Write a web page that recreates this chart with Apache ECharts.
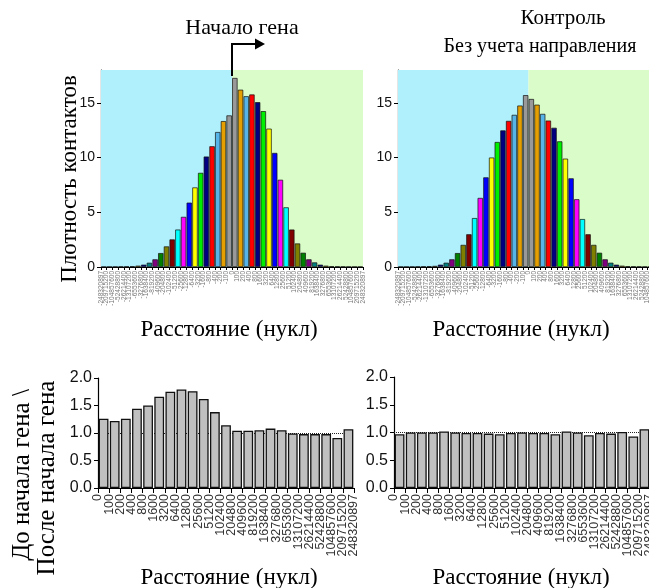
<!DOCTYPE html>
<html><head><meta charset="utf-8">
<script src="https://cdn.jsdelivr.net/npm/echarts@6/dist/echarts.min.js"></script>
<style>html,body{margin:0;padding:0;background:#fff}#c{width:649px;height:588px}</style>
</head><body><div id="c"></div>
<script>
// ---- data ----
const topTickLabels = ['-248320897','-209715200','-104857600','-52428800','-26214400','-13107200','-6553600','-3276800','-1638400','-819200','-409600','-204800','-102400','-51200','-25600','-12800','-6400','-3200','-1600','-800','-400','-200','-100','0','100','200','400','800','1600','3200','6400','12800','25600','51200','102400','204800','409600','819200','1638400','3276800','6553600','13107200','26214400','52428800','104857600','209715200','248320897'];
const binLabels = ['0','100','200','400','800','1600','3200','6400','12800','25600','51200','102400','204800','409600','819200','1638400','3276800','6553600','13107200','26214400','52428800','104857600','209715200','248320897'];
// upstream listed far -> near, downstream near -> far
const upstreamGene = [0.02,0.02,0.03,0.04,0.05,0.07,0.12,0.21,0.39,0.70,1.27,1.88,2.52,3.42,4.58,5.88,7.27,8.60,10.09,11.03,12.33,13.33,13.85];
const downstreamGene = [17.27,16.20,15.60,15.76,15.06,14.24,12.64,10.42,7.97,5.45,3.42,2.15,1.30,0.70,0.42,0.21,0.12,0.07,0.05,0.04,0.03,0.02,0.02];
const upstreamCtrl = [0.02,0.02,0.03,0.04,0.05,0.07,0.10,0.21,0.39,0.70,1.27,2.02,2.99,4.47,6.31,8.19,10.00,11.42,12.48,13.35,13.90,14.75,15.70];
const downstreamCtrl = [15.35,14.83,13.99,13.38,12.72,11.48,9.90,8.10,6.19,4.38,2.99,2.02,1.30,0.70,0.39,0.21,0.12,0.07,0.05,0.04,0.03,0.02,0.02];
const ratioGene = [1.26,1.22,1.26,1.44,1.50,1.66,1.75,1.79,1.76,1.62,1.38,1.14,1.04,1.04,1.05,1.08,1.05,0.99,0.98,0.98,0.98,0.91,1.07];
const ratioCtrl = [0.97,1.00,1.00,1.00,1.02,1.00,0.99,0.99,0.98,0.97,0.99,1.00,0.99,0.99,0.97,1.02,1.00,0.95,0.99,0.98,1.01,0.93,1.06];

// ---- styles ----
const distPalette = ['#999999','#e69f00','#56b4e9','#ff0000','#000080','#00ee00','#ffff00','#0000ff','#ff00ff','#00ffff','#800000','#808000','#008000','#800080','#008080','#000080','#e69f00','#999999','#56b4e9','#ff0000','#000080','#00ee00','#ffff00'];
const SERIF = '"Liberation Serif","Times New Roman",serif';
const SANS = '"Liberation Sans",Arial,sans-serif';

function topBars(up, down) {
  const n = up.length;
  const a = up.map((v, i) => ({value: v, itemStyle: {color: distPalette[n - 1 - i]}}));
  const b = down.map((v, i) => ({value: v, itemStyle: {color: distPalette[i]}}));
  return a.concat(b);
}
const topBinIdx = topTickLabels.slice(1).map((_, i) => 'b' + i);
const botBinIdx = binLabels.slice(1).map((_, i) => 'b' + i);

const grids = [
  {left: 101, top: 70, width: 262, height: 197, outerBoundsMode: 'none', containLabel: false},
  {left: 398, top: 70, width: 261, height: 197, outerBoundsMode: 'none', containLabel: false},
  {left: 98, top: 378, width: 256, height: 110, outerBoundsMode: 'none', containLabel: false},
  {left: 394, top: 377, width: 256, height: 111, outerBoundsMode: 'none', containLabel: false}
];

function barAxis(gi, data) {
  return {type: 'category', gridIndex: gi, data: data, show: false, position: 'bottom', boundaryGap: true};
}
function labelAxis(gi, data, fs, color, tickLen, margin) {
  return {type: 'category', gridIndex: gi, data: data, boundaryGap: false, position: 'bottom',
    axisLine: {show: true, lineStyle: {color: '#000', width: 1.2}},
    axisTick: {show: true, interval: 0, length: tickLen, lineStyle: {color: '#000'}},
    axisLabel: {interval: 0, rotate: 90, fontSize: fs, color: color, margin: margin, fontFamily: SANS, hideOverlap: false},
    splitLine: {show: false}};
}
function yAx(gi, max, interval, fs, fmt) {
  return {type: 'value', gridIndex: gi, min: 0, max: max, interval: interval,
    axisLine: {show: true, lineStyle: {color: '#000', width: 1.2}},
    axisTick: {show: true, length: 4, lineStyle: {color: '#000'}},
    splitLine: {show: false},
    axisLabel: {fontSize: fs, color: '#111', margin: 6, fontFamily: SANS, showMaxLabel: max === 2, formatter: fmt}};
}

const bgArea = {silent: true, data: [
  [{xAxis: topTickLabels[0], itemStyle: {color: '#b0f0fc'}}, {xAxis: topTickLabels[upstreamGene.length]}],
  [{xAxis: topTickLabels[upstreamGene.length], itemStyle: {color: '#dafcc8'}}, {xAxis: topTickLabels[topTickLabels.length - 1]}]
]};
const oneLine = {silent: true, symbol: 'none', label: {show: false},
  lineStyle: {type: 'dotted', color: '#222', width: 1}, data: [{yAxis: 1}]};

const option = {
  animation: false,
  backgroundColor: '#fff',
  grid: grids,
  xAxis: [
    barAxis(0, topBinIdx), labelAxis(0, topTickLabels, 6.5, '#777', 3, 4),
    barAxis(1, topBinIdx), labelAxis(1, topTickLabels, 6.5, '#777', 3, 4),
    barAxis(2, botBinIdx), labelAxis(2, binLabels, 12.5, '#333', 5, 6),
    barAxis(3, botBinIdx), labelAxis(3, binLabels, 12.5, '#333', 5, 6)
  ],
  yAxis: [
    yAx(0, 18, 5, 14), yAx(1, 18, 5, 14),
    yAx(2, 2, 0.5, 16, v => v.toFixed(1)), yAx(3, 2, 0.5, 16, v => v.toFixed(1))
  ],
  series: [
    {type: 'line', xAxisIndex: 1, yAxisIndex: 0, data: topTickLabels.map(() => null), z: 0, symbol: 'none', markArea: bgArea},
    {type: 'line', xAxisIndex: 3, yAxisIndex: 1, data: topTickLabels.map(() => null), z: 0, symbol: 'none', markArea: bgArea},
    {type: 'bar', xAxisIndex: 0, yAxisIndex: 0, z: 5, data: topBars(upstreamGene, downstreamGene), barCategoryGap: '6%',
      itemStyle: {borderColor: '#111', borderWidth: 0.7}},
    {type: 'bar', xAxisIndex: 2, yAxisIndex: 1, z: 5, data: topBars(upstreamCtrl, downstreamCtrl), barCategoryGap: '6%',
      itemStyle: {borderColor: '#111', borderWidth: 0.7}},
    {type: 'bar', xAxisIndex: 4, yAxisIndex: 2, z: 5, data: ratioGene, barCategoryGap: '12%',
      itemStyle: {color: '#c0c0c0', borderColor: '#111', borderWidth: 1.3}, markLine: oneLine},
    {type: 'bar', xAxisIndex: 6, yAxisIndex: 3, z: 5, data: ratioCtrl, barCategoryGap: '12%',
      itemStyle: {color: '#c0c0c0', borderColor: '#111', borderWidth: 1.3}, markLine: oneLine}
  ]
};

const chart = echarts.init(document.getElementById('c'), null, {renderer: 'canvas'});
chart.setOption(option);

function txt(x, y, s, rot, fs) {
  return {type: 'text', x: x, y: y, rotation: rot || 0, z: 100,
    style: {text: s, font: (fs || 23) + 'px ' + SERIF, fill: '#000', textAlign: 'center', textVerticalAlign: 'middle'}};
}
const x0 = chart.convertToPixel({xAxisIndex: 1}, topTickLabels[upstreamGene.length]);
const yTop = grids[0].top;
chart.setOption({graphic: [
  txt(242, 28, 'Начало гена', 0, 22),
  txt(563, 18, 'Контроль', 0, 21),
  txt(540, 47, 'Без учета направления', 0, 20),
  txt(229, 330, 'Расстояние (нукл)'),
  txt(521, 330, 'Расстояние (нукл)'),
  txt(229, 578, 'Расстояние (нукл)'),
  txt(521, 578, 'Расстояние (нукл)'),
  txt(70, 179, 'Плотность контактов', Math.PI / 2),
  txt(22, 475, 'До начала гена \\', Math.PI / 2, 25),
  txt(47, 478, 'После начала гена', Math.PI / 2, 25),
  {type: 'polyline', z: 100, shape: {points: [[x0, yTop + 6], [x0, 44], [x0 + 25, 44]]}, style: {stroke: '#000', lineWidth: 2, fill: null}},
  {type: 'polygon', z: 100, shape: {points: [[x0 + 23, 38.5], [x0 + 33, 44], [x0 + 23, 49.5]]}, style: {fill: '#000'}}
]});
</script>
</body></html>
